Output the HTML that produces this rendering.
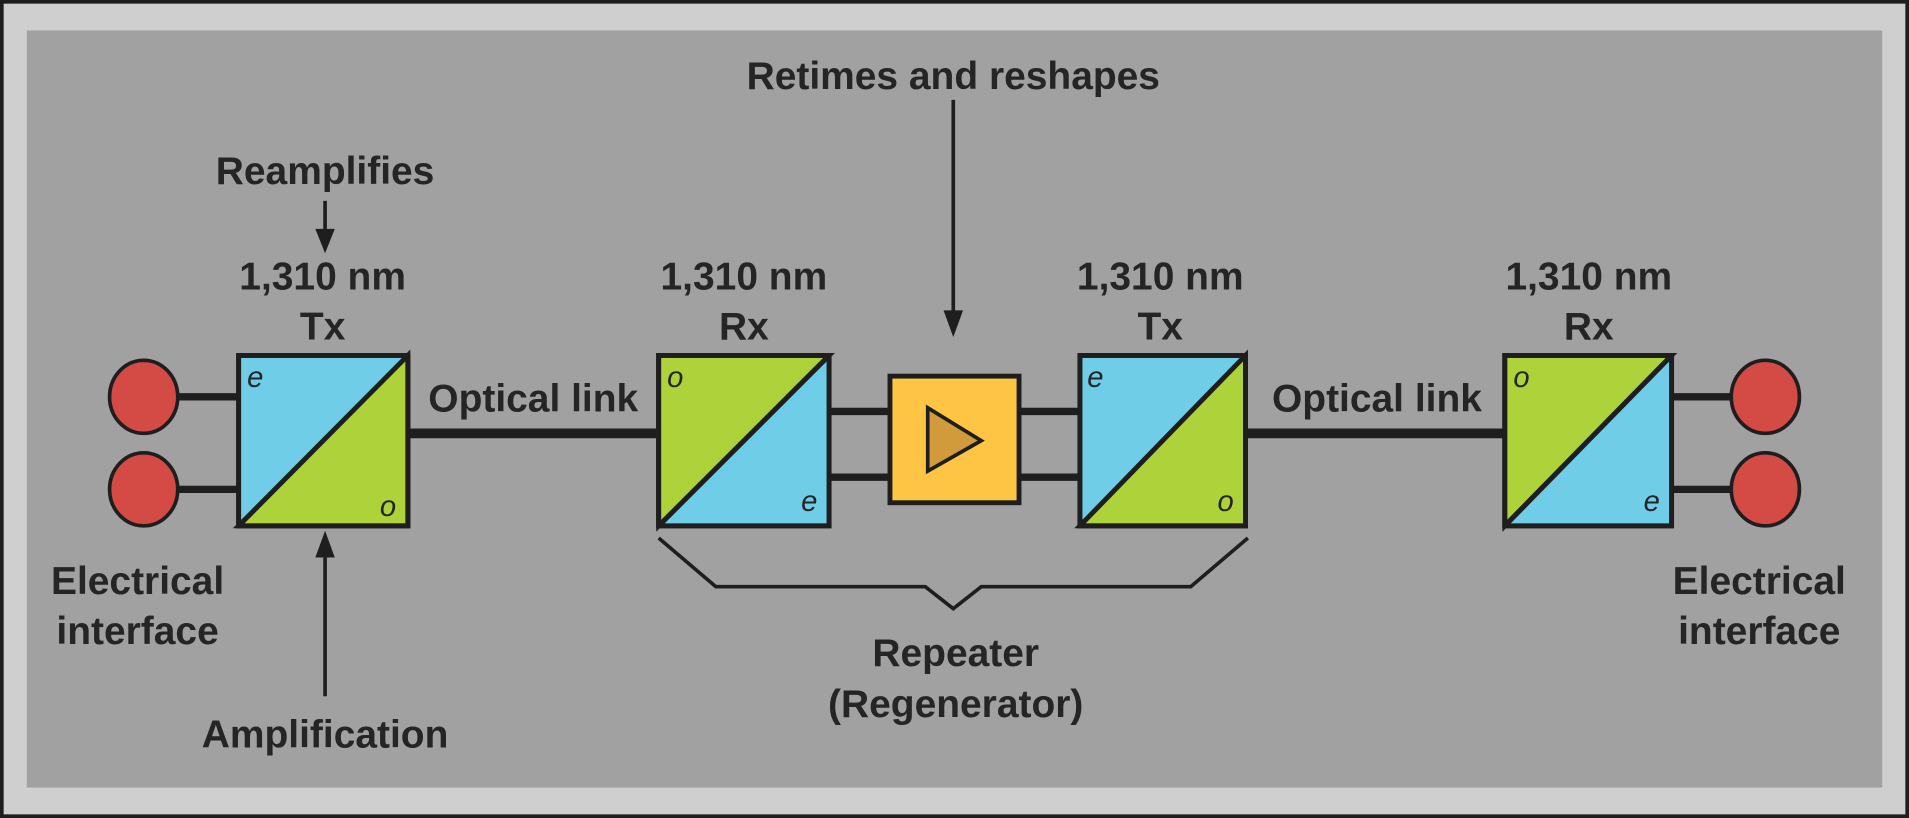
<!DOCTYPE html>
<html><head><meta charset="utf-8"><style>
html,body{margin:0;padding:0;background:#1e1e1e;}
svg{display:block;}
text{font-family:"Liberation Sans",sans-serif;font-weight:bold;fill:#252525;}
</style></head><body>
<svg width="1909" height="818" viewBox="0 0 1568 672" preserveAspectRatio="none" xmlns="http://www.w3.org/2000/svg">
<rect x="0" y="0" width="1568" height="672" fill="#1e1e1e"/>
<rect x="3" y="3" width="1562" height="666" fill="#cfcfcf"/>
<rect x="22" y="25" width="1524" height="622" fill="#a1a1a1"/>

<g stroke="#1e1e1e" fill="none">
<!-- wires -->
<line x1="146" y1="326" x2="196" y2="326" stroke-width="6"/>
<line x1="146" y1="402" x2="196" y2="402" stroke-width="6"/>
<line x1="335" y1="356" x2="541" y2="356" stroke-width="8"/>
<line x1="681" y1="338" x2="731" y2="338" stroke-width="6"/>
<line x1="681" y1="392" x2="731" y2="392" stroke-width="6"/>
<line x1="837" y1="338" x2="887" y2="338" stroke-width="6"/>
<line x1="837" y1="392" x2="887" y2="392" stroke-width="6"/>
<line x1="1023" y1="356" x2="1236" y2="356" stroke-width="8"/>
<line x1="1373" y1="326" x2="1422" y2="326" stroke-width="6"/>
<line x1="1373" y1="402" x2="1422" y2="402" stroke-width="6"/>
</g>

<g stroke="#1e1e1e" stroke-width="3">
<ellipse cx="118" cy="326" rx="28" ry="30" fill="#d44b45"/>
<ellipse cx="118" cy="402" rx="28" ry="30" fill="#d44b45"/>
<ellipse cx="1450" cy="326" rx="28" ry="30" fill="#d44b45"/>
<ellipse cx="1450" cy="402" rx="28" ry="30" fill="#d44b45"/>
</g>

<!-- Tx1 -->
<g stroke="#1e1e1e" stroke-width="4">
<rect x="196" y="292" width="139" height="140" fill="#6fcde8"/>
<polygon points="335,292 335,432 196,432" fill="#aed23a"/>
<rect x="196" y="292" width="139" height="140" fill="none"/>
<!-- Rx1 -->
<rect x="541" y="292" width="140" height="140" fill="#6fcde8"/>
<polygon points="541,292 681,292 541,432" fill="#aed23a"/>
<line x1="541" y1="432" x2="681" y2="292"/>
<rect x="541" y="292" width="140" height="140" fill="none"/>
<!-- Amp -->
<rect x="731" y="309" width="106" height="104" fill="#fdc543"/>
<polygon points="762,335 762,387 806,362" fill="#d19a3b" stroke-width="3"/>
<!-- Tx2 -->
<rect x="887" y="292" width="136" height="140" fill="#6fcde8"/>
<polygon points="1023,292 1023,432 887,432" fill="#aed23a"/>
<rect x="887" y="292" width="136" height="140" fill="none"/>
<!-- Rx2 -->
<rect x="1236" y="292" width="137" height="140" fill="#6fcde8"/>
<polygon points="1236,292 1373,292 1236,432" fill="#aed23a"/>
<line x1="1236" y1="432" x2="1373" y2="292"/>
<rect x="1236" y="292" width="137" height="140" fill="none"/>
</g>

<g style="font-family:'Liberation Sans',sans-serif;font-style:italic;font-weight:normal" font-size="24" fill="#1e1e1e">
<text x="203" y="318" style="font-weight:normal;font-style:italic">e</text>
<text x="312" y="424" style="font-weight:normal;font-style:italic">o</text>
<text x="548" y="318" style="font-weight:normal;font-style:italic">o</text>
<text x="658" y="420" style="font-weight:normal;font-style:italic">e</text>
<text x="893" y="318" style="font-weight:normal;font-style:italic">e</text>
<text x="1000" y="420" style="font-weight:normal;font-style:italic">o</text>
<text x="1243" y="318" style="font-weight:normal;font-style:italic">o</text>
<text x="1350" y="420" style="font-weight:normal;font-style:italic">e</text>
</g>

<!-- arrows -->
<g stroke="#1e1e1e" stroke-width="3" fill="#1e1e1e">
<line x1="267" y1="165" x2="267" y2="195"/>
<polygon points="259,188 275,188 267,208" stroke="none"/>
<line x1="783" y1="82" x2="783" y2="262"/>
<polygon points="775,255 791,255 783,277" stroke="none"/>
<line x1="267" y1="572" x2="267" y2="450"/>
<polygon points="259,458 275,458 267,436" stroke="none"/>
<polyline points="541,442 588,482 760,482 783,500 806,482 978,482 1025,442" fill="none"/>
</g>

<g font-size="32" text-anchor="middle">
<text x="267" y="151">Reamplifies</text>
<text x="783" y="73">Retimes and reshapes</text>
<text x="265" y="238">1,310 nm</text>
<text x="265" y="279">Tx</text>
<text x="611" y="238">1,310 nm</text>
<text x="611" y="279">Rx</text>
<text x="953" y="238">1,310 nm</text>
<text x="953" y="279">Tx</text>
<text x="1305" y="238">1,310 nm</text>
<text x="1305" y="279">Rx</text>
<text x="438" y="338">Optical link</text>
<text x="1131" y="338">Optical link</text>
<text x="113" y="488">Electrical</text>
<text x="113" y="529">interface</text>
<text x="1445" y="488">Electrical</text>
<text x="1445" y="529">interface</text>
<text x="267" y="614">Amplification</text>
<text x="785" y="547">Repeater</text>
<text x="785" y="589">(Regenerator)</text>
</g>
</svg>
</body></html>
